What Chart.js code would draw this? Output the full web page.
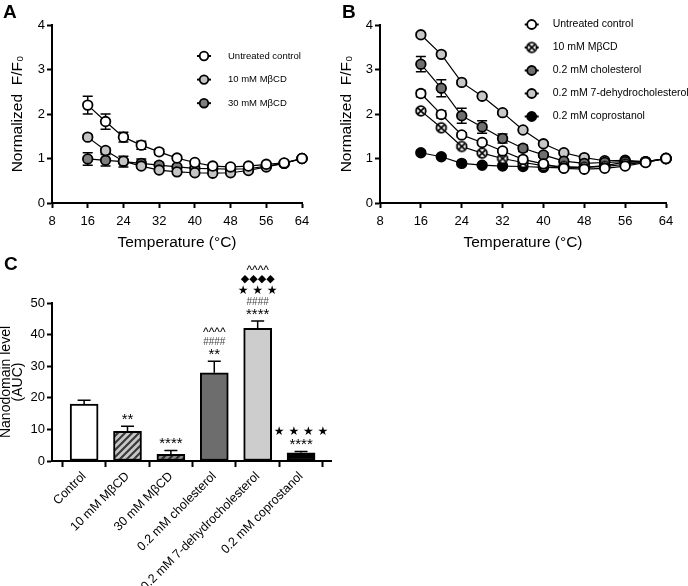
<!DOCTYPE html>
<html><head><meta charset="utf-8">
<script src="https://cdn.jsdelivr.net/npm/chart.js@4.4.1/dist/chart.umd.min.js"></script>
<style>
html,body{margin:0;padding:0;background:#fff;}
body{width:688px;height:586px;position:relative;overflow:hidden;font-family:"Liberation Sans",Arial,sans-serif;}
.cv{position:absolute;}
.lbl{position:absolute;font-weight:bold;font-size:19px;line-height:1;color:#000;}
</style></head><body>
<div class="cv" style="left:0;top:0;"><canvas id="cA" width="334" height="256"></canvas></div>
<div class="cv" style="left:334px;top:0;"><canvas id="cB" width="354" height="256"></canvas></div>
<div class="cv" style="left:0;top:250px;"><canvas id="cC" width="345" height="336"></canvas></div>
<div class="lbl" style="left:3px;top:2px">A</div>
<div class="lbl" style="left:342px;top:2px">B</div>
<div class="lbl" style="left:4px;top:254px">C</div>
<script>
// ---------- data ----------
const temps = [16,20,24,28,32,36,40,44,48,52,56,60,64];
const tempTicks = [8,16,24,32,40,48,56,64];
const fTicks = [0,1,2,3,4];

const aNames = ["Untreated control","10 mM MβCD","30 mM MβCD"];
const aUntreated    = [2.20,1.83,1.48,1.30,1.15,1.01,0.91,0.83,0.81,0.83,0.87,0.90,1.00];
const aUntreatedErr = [0.20,0.17,0.11,0.09,0.06,0.05,0.04,0.03,0.03,0.03,0.03,0.02,0];
const aMbcd10       = [1.48,1.18,0.94,0.83,0.74,0.70,0.68,0.67,0.68,0.73,0.81,0.89,1.00];
const aMbcd10Err    = [0.05,0.05,0.04,0.03,0.03,0.03,0.03,0.02,0.02,0.02,0.02,0.02,0];
const aMbcd30       = [0.99,0.96,0.93,0.89,0.85,0.81,0.78,0.77,0.76,0.77,0.83,0.89,1.00];
const aMbcd30Err    = [0.14,0.13,0.12,0.10,0.06,0.05,0.04,0.03,0.03,0.03,0.03,0.02,0];

const bNames = ["Untreated control","10 mM MβCD","0.2 mM cholesterol","0.2 mM 7-dehydrocholesterol","0.2 mM coprostanol"];
const bUntreated    = [2.46,1.99,1.53,1.36,1.17,0.98,0.88,0.78,0.76,0.78,0.83,0.91,1.00];
const bUntreatedErr = [0.07,0.08,0.05,0.04,0.03,0.03,0.03,0.02,0.02,0.02,0.02,0.02,0];
const bMbcd10       = [2.07,1.69,1.27,1.12,1.00,0.91,0.84,0.82,0.80,0.82,0.87,0.92,1.00];
const bMbcd10Err    = [0.04,0.04,0.04,0.03,0.03,0.03,0.02,0.02,0.02,0.02,0.02,0.02,0];
const bChol         = [3.12,2.58,1.96,1.71,1.45,1.23,1.08,0.94,0.89,0.91,0.93,0.93,1.00];
const bCholErr      = [0.17,0.19,0.17,0.14,0.10,0.07,0.05,0.04,0.03,0.03,0.03,0.02,0];
const bDhc          = [3.78,3.34,2.71,2.40,2.03,1.64,1.33,1.13,1.02,0.95,0.96,0.93,1.00];
const bDhcErr       = [0.04,0.04,0.04,0.04,0.04,0.03,0.03,0.03,0.02,0.02,0.02,0.02,0];
const bCopro        = [1.13,1.04,0.89,0.85,0.83,0.82,0.80,0.79,0.80,0.84,0.92,0.92,1.00];
const bCoproErr     = [0.03,0.03,0.03,0.03,0.02,0.02,0.02,0.02,0.02,0.02,0.02,0.02,0];

const cCats = ["Control","10 mM MβCD","30 mM MβCD","0.2 mM cholesterol","0.2 mM 7-dehydrocholesterol","0.2 mM coprostanol"];
const cAuc    = [18.0,9.4,2.1,27.9,42.0,2.6];
const cAucErr = [1.2,1.6,1.2,3.7,2.3,0.4];
const cTicks  = [0,10,20,30,40,50];
const cSig = [[],["**"],["****"],["**","####","^^^^"],["****","####","★ ★ ★","◆◆◆◆","^^^^"],["****","★ ★ ★ ★"]];

// ---------- styles ----------
const FONT = '"Liberation Sans", Arial, "DejaVu Sans", sans-serif';
Chart.defaults.font.family = FONT;
Chart.defaults.color = '#000';

function crossCircle(r){
  const s = Math.ceil(2*r+4);
  const c = document.createElement('canvas'); c.width = s; c.height = s;
  const g = c.getContext('2d'); const m = s/2;
  g.beginPath(); g.arc(m,m,r,0,Math.PI*2); g.fillStyle='#fff'; g.fill();
  g.lineWidth=1.8; g.strokeStyle='#000'; g.stroke();
  const d = r*0.62;
  g.lineWidth=1.7; g.beginPath();
  g.moveTo(m-d,m-d); g.lineTo(m+d,m+d); g.moveTo(m+d,m-d); g.lineTo(m-d,m+d); g.stroke();
  return c;
}
function hatch(bg, fg){
  const s = 7;
  const c = document.createElement('canvas'); c.width = s; c.height = s;
  const g = c.getContext('2d');
  g.fillStyle = bg; g.fillRect(0,0,s,s);
  g.strokeStyle = fg; g.lineWidth = 2.2;
  g.beginPath();
  g.moveTo(-1,s+1); g.lineTo(s+1,-1);
  g.moveTo(-2,2); g.lineTo(2,-2);
  g.moveTo(s-2,s+2); g.lineTo(s+2,s-2);
  g.stroke();
  return g.createPattern(c,'repeat');
}

function lineDs(name, ys, errs, color, style){
  return {label:name, data: temps.map((t,i)=>({x:t,y:ys[i]})), errors: errs,
    showLine:true, borderColor:'#000', borderWidth:1.2,
    pointBackgroundColor:color, pointBorderColor:'#000', pointBorderWidth:1.8,
    pointRadius:4.8, pointHoverRadius:4.8, pointStyle: style || 'circle', clip:false};
}

const errPlugin = {id:'lineErr', beforeDatasetsDraw(chart){
  const ctx = chart.ctx, xs = chart.scales.x, ys = chart.scales.y;
  ctx.save(); ctx.strokeStyle='#000'; ctx.lineWidth=1.5;
  chart.data.datasets.forEach(ds=>{
    ds.data.forEach((p,i)=>{
      const e = ds.errors[i]; if(!e) return;
      const x = xs.getPixelForValue(p.x);
      const y1 = ys.getPixelForValue(p.y+e), y2 = ys.getPixelForValue(p.y-e);
      ctx.beginPath(); ctx.moveTo(x,y1); ctx.lineTo(x,y2);
      ctx.moveTo(x-5,y1); ctx.lineTo(x+5,y1); ctx.moveTo(x-5,y2); ctx.lineTo(x+5,y2);
      ctx.stroke();
    });
  });
  ctx.restore();
}};

function legendPlugin(cfg){
  return {id:'ptLegend', afterDraw(chart){
    const ctx = chart.ctx; ctx.save();
    chart.data.datasets.forEach((ds,i)=>{
      const x = cfg.x, y = cfg.y + i*cfg.dy;
      ctx.strokeStyle='#000'; ctx.lineWidth=2;
      ctx.beginPath(); ctx.moveTo(x-7,y); ctx.lineTo(x+7,y); ctx.stroke();
      if (typeof ds.pointStyle !== 'string') {
        const im = ds.pointStyle; ctx.drawImage(im, x-im.width/2, y-im.height/2);
      } else {
        ctx.beginPath(); ctx.arc(x,y,cfg.r,0,Math.PI*2);
        ctx.fillStyle = ds.pointBackgroundColor; ctx.fill();
        ctx.lineWidth=1.8; ctx.strokeStyle='#000'; ctx.stroke();
      }
      ctx.fillStyle='#000'; ctx.font = cfg.size+'px '+FONT;
      ctx.textAlign='left'; ctx.textBaseline='middle';
      ctx.fillText(ds.label, x+cfg.tx, y);
    });
    ctx.restore();
  }};
}

function tempOptions(padRight, yWidth, yTitlePad){
  return {
    responsive:false, animation:false, events:[],
    layout:{padding:{top:25, right:padRight, left:0, bottom:0}},
    plugins:{legend:{display:false}, tooltip:{enabled:false}},
    scales:{
      x:{type:'linear', min:8, max:64,
        afterBuildTicks:s=>{s.ticks = tempTicks.map(v=>({value:v}));},
        afterFit:s=>{s.height = 53;},
        border:{color:'#000', width:2},
        grid:{drawOnChartArea:false, tickLength:5, tickWidth:2, tickColor:'#000'},
        ticks:{color:'#000', font:{size:13}, padding:6},
        title:{display:true, text:'Temperature (°C)', color:'#000', font:{size:15.5}, padding:{top:0,bottom:3.7}}},
      y:{type:'linear', min:0, max:4,
        afterBuildTicks:s=>{s.ticks = fTicks.map(v=>({value:v}));},
        afterFit:s=>{s.width = yWidth;},
        border:{color:'#000', width:2},
        grid:{drawOnChartArea:false, tickLength:5, tickWidth:2, tickColor:'#000'},
        ticks:{color:'#000', font:{size:13}, padding:2},
        title:{display:true, text:'Normalized  F/F₀', color:'#000', font:{size:15.5}, padding:{top:yTitlePad,bottom:0}}}
    }
  };
}

// ---------- Panel A ----------
new Chart(document.getElementById('cA'), {
  type:'scatter',
  data:{datasets:[
    lineDs(aNames[0], aUntreated, aUntreatedErr, '#ffffff'),
    lineDs(aNames[1], aMbcd10, aMbcd10Err, '#c4c4c4'),
    lineDs(aNames[2], aMbcd30, aMbcd30Err, '#7f7f7f')
  ]},
  options: tempOptions(32, 52, 8.7),
  plugins:[errPlugin, legendPlugin({x:204, y:56, dy:23.6, tx:24, r:4.3, size:9.5})]
});

// ---------- Panel B ----------
const crossImg = crossCircle(4.8);
new Chart(document.getElementById('cB'), {
  type:'scatter',
  data:{datasets:[
    lineDs(bNames[0], bUntreated, bUntreatedErr, '#ffffff'),
    lineDs(bNames[1], bMbcd10, bMbcd10Err, '#ffffff', crossImg),
    lineDs(bNames[2], bChol, bCholErr, '#6f6f6f'),
    lineDs(bNames[3], bDhc, bDhcErr, '#c8c8c8'),
    lineDs(bNames[4], bCopro, bCoproErr, '#000000')
  ]},
  options: tempOptions(22, 46, 3.7),
  plugins:[errPlugin, legendPlugin({x:197.7, y:24.5, dy:23, tx:21, r:4.5, size:10.5})]
});

// ---------- Panel C ----------
const barFills = ['#ffffff', hatch('#c8c8c8','#3a3a3a'), hatch('#8a8a8a','#2a2a2a'), '#6d6d6d', '#cdcdcd', '#000000'];

const barExtras = {id:'barExtras', afterDatasetsDraw(chart){
  const ctx = chart.ctx, xs = chart.scales.x, ys = chart.scales.y;
  const ds = chart.data.datasets[0];
  ctx.save();
  ds.data.forEach((p,i)=>{
    const x = xs.getPixelForValue(p.x);
    const yb = ys.getPixelForValue(p.y), yt = ys.getPixelForValue(p.y + ds.errors[i]);
    ctx.strokeStyle='#000'; ctx.lineWidth=1.5;
    ctx.beginPath(); ctx.moveTo(x,yb); ctx.lineTo(x,yt); ctx.moveTo(x-6.5,yt); ctx.lineTo(x+6.5,yt); ctx.stroke();
    cSig[i].forEach((s,k)=>{
      let f, col = '#000';
      if (s.indexOf('*')>=0) f = '15px '+FONT;
      else if (s.indexOf('#')>=0) { f = '10px '+FONT; col = '#444'; }
      else if (s.indexOf('^')>=0) f = '12px '+FONT;
      else if (s.indexOf('★')>=0) f = '12px "DejaVu Sans", sans-serif';
      else f = '11px "DejaVu Sans", sans-serif';
      ctx.font = f; ctx.fillStyle = col; ctx.textAlign='center'; ctx.textBaseline='alphabetic';
      const m = ctx.measureText(s);
      const cy = yt - 9.5 - k*11;
      const base = cy + (m.actualBoundingBoxAscent - m.actualBoundingBoxDescent)/2;
      ctx.fillText(s, x, base);
    });
  });
  ctx.restore();
}};

new Chart(document.getElementById('cC'), {
  type:'bar',
  data:{datasets:[{
    data: cAuc.map((v,i)=>({x:i, y:v})), errors: cAucErr,
    backgroundColor: barFills, borderColor:'#000', borderWidth:2, borderSkipped:false,
    barThickness:28, clip:false
  }]},
  options:{
    responsive:false, animation:false, events:[],
    layout:{padding:{top:53, right:14, left:0, bottom:0}},
    plugins:{legend:{display:false}, tooltip:{enabled:false}},
    scales:{
      x:{type:'linear', min:-0.74, max:5.69, offset:false,
        afterBuildTicks:s=>{s.ticks = cCats.map((c,i)=>({value:i}));},
        afterFit:s=>{s.height = 125;},
        border:{color:'#000', width:2},
        grid:{drawOnChartArea:false, tickLength:6, tickWidth:2, tickColor:'#000'},
        ticks:{color:'#000', font:{size:12.5}, padding:2, minRotation:45, maxRotation:45, autoSkip:false,
          callback:(v)=>cCats[v]}},
      y:{type:'linear', min:0, max:50,
        afterBuildTicks:s=>{s.ticks = cTicks.map(v=>({value:v}));},
        afterFit:s=>{s.width = 52;},
        border:{color:'#000', width:2},
        grid:{drawOnChartArea:false, tickLength:5, tickWidth:2, tickColor:'#000'},
        ticks:{color:'#000', font:{size:13}, padding:2},
        title:{display:true, text:['Nanodomain level','(AUC)'], color:'#000', font:{size:14, lineHeight:0.85}, padding:{top:0,bottom:0}}}
    }
  },
  plugins:[barExtras]
});
</script>
</body></html>
